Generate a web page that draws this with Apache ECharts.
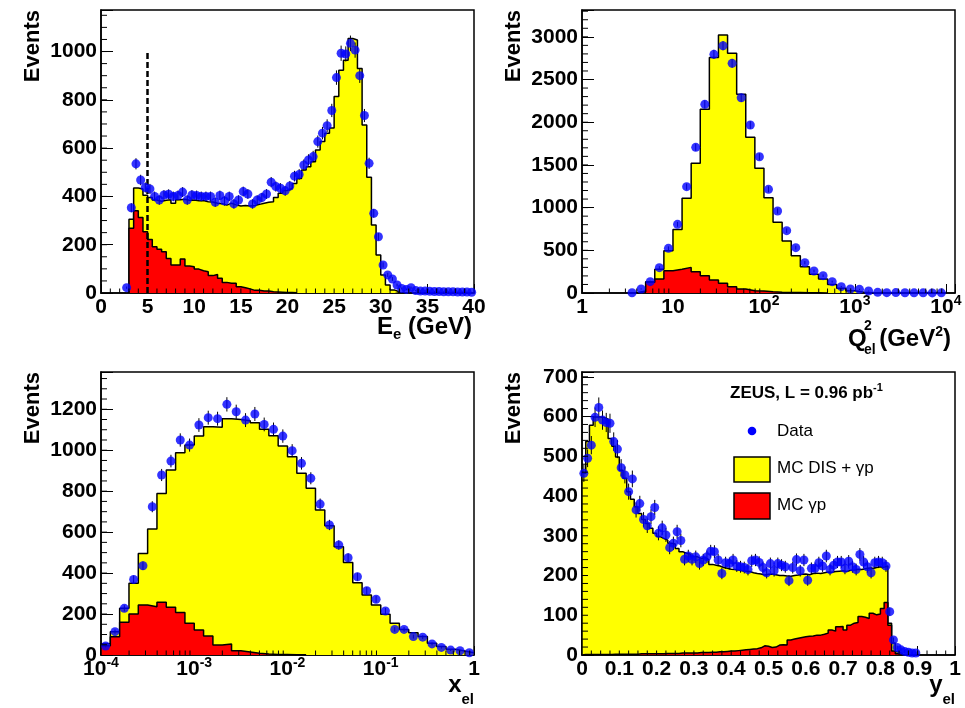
<!DOCTYPE html>
<html>
<head>
<meta charset="utf-8">
<script src="https://cdn.jsdelivr.net/npm/echarts@6/dist/echarts.min.js"></script>
<style>
html,body{margin:0;padding:0;background:#fff;}
#chart{width:965px;height:708px;}
</style>
</head>
<body>
<div id="chart"></div>
<script>
// ---------- E_e : scattered electron energy, 0.5 GeV bins ----------
const eeBinWidth = 0.5;
const eeMcStart = 3.0;
const eeMcTotal = [305, 435, 431, 405, 395, 385, 380, 384, 386, 372, 386, 388, 384, 385, 382, 383, 378, 377, 372, 370,
  364, 372, 365, 360, 362, 360, 362, 367, 372, 376, 378, 395, 413, 425, 433, 453, 474, 509, 523, 544,
  592, 627, 662, 683, 814, 923, 964, 1054, 1048, 930, 696, 479, 282, 157, 75, 33, 12, 5];
const eeMcGammaP = [268, 341, 313, 254, 222, 192, 181, 171, 143, 116, 116, 141, 112, 109, 99, 92, 88, 72, 77, 61,
  44, 40, 40, 26, 22, 17, 11, 11, 8, 8, 5, 4, 3, 2, 2, 1];
const eeDataStart = 2.5;
const eeData = [22, 353, 535, 468, 437, 431, 400, 385, 406, 409, 400, 404, 418, 385, 406, 404, 400, 400, 400, 376,
  404, 381, 400, 369, 385, 420, 410, 369, 385, 395, 410, 459, 441, 434, 423, 443, 484, 491, 530, 551,
  565, 627, 662, 693, 756, 892, 993, 990, 1034, 1006, 900, 735, 537, 330, 233, 116, 75, 58, 33, 19,
  15, 22, 10, 8, 8, 7, 6, 6, 5, 5, 5, 4, 4, 4, 3];
const eeCutEnergy = 5;
const eeCutHeight = 1000;

// ---------- Q^2_el : bins of 0.1 in log10(Q^2) ----------
const q2BinWidthLog = 0.1;
const q2McStartLog = 0.6;
const q2McTotal = [23, 133, 277, 496, 745, 1109, 1518, 2151, 2759, 3021, 2807, 2326, 1823, 1460, 1116, 828, 609, 437, 308, 219,
  164, 101, 55, 27, 8, 3, 1];
const q2McGammaP = [15, 125, 164, 261, 277, 300, 250, 203, 152, 113, 74, 47, 27, 23, 15, 10, 7, 5, 3, 2, 1];
const q2DataStartLog = 0.5;
const q2Data = [3, 47, 133, 297, 523, 804, 1245, 1706, 2209, 2795, 2896, 2689, 2287, 1967, 1596, 1214, 960, 730, 531, 355,
  258, 203, 133, 74, 47, 43, 23, 8, 4, 5, 3, 2, 2, 1, 2];
const q2TickLabels = ['1', '10', '10{sup|2}', '10{sup|3}', '10{sup|4}'];          // 10^0 .. 10^4

// ---------- x_el : bins of 0.1 in log10(x) ----------
const xBinWidthLog = 0.1;
const xMcStartLog = -4;
const xMcTotal = [55, 114, 228, 350, 496, 615, 789, 903, 988, 1025, 1069, 1115, 1112, 1154, 1150, 1144, 1134, 1102, 1071, 1021,
  968, 887, 814, 708, 631, 529, 452, 353, 293, 244, 199, 155, 125, 109, 90, 57, 41, 28, 19, 11];
const xMcGammaP = [45, 89, 160, 200, 244, 236, 257, 233, 208, 155, 122, 93, 49, 54, 21, 15, 8, 5, 3, 2, 1, 1];
const xDataStartLog = -4;
const xData = [44, 114, 228, 369, 436, 724, 879, 947, 1050, 1025, 1123, 1159, 1154, 1224, 1188, 1147, 1177, 1126, 1102, 1069,
  998, 936, 863, 737, 635, 537, 475, 382, 314, 272, 215, 125, 125, 90, 87, 54, 37, 24, 21, 11];
const xTickLabels = ['10{sup|-4}', '10{sup|-3}', '10{sup|-2}', '10{sup|-1}', '1'];  // 10^-4 .. 10^0

// ---------- y_el : bins of 0.01 ----------
const yBinWidth = 0.01;
const yMcStart = 0;
const yMcTotal = [457, 537, 578, 599, 599, 597, 594, 545, 525, 498,
  465, 445, 411, 392, 373, 356, 341, 331, 319, 306,
  298, 293, 289, 281, 279, 268, 260, 256, 254, 247,
  247, 243, 245, 240, 228, 226, 224, 220, 218, 216,
  215, 214, 212, 211, 210, 207, 205, 204, 201, 203,
  204, 202, 200, 200, 199, 198, 200, 201, 203, 204,
  202, 205, 206, 205, 207, 209, 208, 210, 211, 212,
  210, 213, 214, 216, 215, 217, 219, 218, 220, 222,
  221, 224, 80, 30, 8, 3];
const yMcGammaP = [1, 1, 1, 1, 1, 1, 1, 1, 2, 2,
  2, 2, 2, 2, 2, 3, 3, 3, 3, 3,
  3, 3, 4, 4, 4, 4, 5, 5, 5, 5,
  5, 6, 6, 6, 7, 7, 8, 8, 9, 10,
  10, 11, 12, 13, 14, 15, 16, 18, 23, 22,
  19, 20, 25, 26, 25, 38, 40, 42, 44, 46,
  47, 48, 50, 50, 52, 55, 63, 60, 71, 72,
  63, 75, 80, 82, 97, 95, 92, 105, 101, 103,
  117, 132, 75, 10, 3, 1];
const yDataStart = 0;
const yData = [457, 495, 528, 598, 623, 591, 585, 583, 537, 518,
  471, 453, 411, 443, 365, 381, 341, 325, 348, 371,
  306, 320, 302, 270, 281, 310, 288, 241, 249, 241,
  247, 230, 239, 247, 261, 260, 239, 205, 232, 230,
  239, 224, 222, 220, 215, 237, 239, 233, 220, 207,
  230, 212, 230, 226, 222, 187, 220, 240, 212, 239,
  188, 218, 218, 232, 224, 249, 215, 226, 234, 234,
  218, 236, 222, 215, 253, 234, 222, 207, 232, 234,
  232, 224, 109, 38, 19, 13, 9, 7, 5, 5];

// ---------- legend / labels ----------
const legendTitle = 'ZEUS, L = 0.96 pb{sup|-1}';
const legendNames = ['Data', 'MC DIS + \u03b3p', 'MC \u03b3p'];

// ---------- styling ----------
const FONT = '"Liberation Sans", Arial, Helvetica, sans-serif';
const YELLOW = '#ffff00', RED = '#ff0000', BLUE = '#0000ff';

// ---------- helpers ----------
function edgesLin(start, w, n) { const e = []; for (let i = 0; i <= n; i++) e.push(start + i * w); return e; }
function edgesLog(start, w, n) { const e = []; for (let i = 0; i <= n; i++) e.push(Math.pow(10, start + i * w)); return e; }
function centersLin(start, w, n) { const c = []; for (let i = 0; i < n; i++) c.push(start + (i + 0.5) * w); return c; }
function centersLog(start, w, n) { const c = []; for (let i = 0; i < n; i++) c.push(Math.pow(10, start + (i + 0.5) * w)); return c; }
// outline of a histogram as a step path starting and ending on the baseline
function stepPath(edges, vals) {
  const pts = [[edges[0], 0]];
  vals.forEach((v, i) => pts.push([edges[i], v]));
  pts.push([edges[vals.length], vals[vals.length - 1]]);
  pts.push([edges[vals.length], 0]);
  return pts;
}

function histSeries(g, edges, vals, fill, z, extra) {
  return Object.assign({
    type: 'line', xAxisIndex: g, yAxisIndex: g, data: stepPath(edges, vals), step: 'end',
    symbol: 'none', silent: true, z: z,
    lineStyle: { color: '#000', width: 1.5 },
    areaStyle: { color: fill, opacity: 1 }
  }, extra || {});
}
function dataSeries(g, centers, vals) {
  return {
    type: 'scatter', name: 'Data', xAxisIndex: g, yAxisIndex: g, silent: true, z: 6,
    symbol: 'circle', symbolSize: 9, itemStyle: { color: BLUE },
    data: centers.map((c, i) => [c, vals[i]])
  };
}
// statistical (Poisson) error bars of the data points
function errorSeries(g, centers, vals) {
  return {
    type: 'custom', xAxisIndex: g, yAxisIndex: g, silent: true, z: 5,
    encode: { x: 0, y: 1 },
    data: centers.map((c, i) => [c, vals[i], Math.sqrt(vals[i])]),
    renderItem: function (p, api) {
      const x = api.value(0), y = api.value(1), e = api.value(2);
      const a = api.coord([x, Math.max(0, y - e)]), b = api.coord([x, y + e]);
      return { type: 'line', shape: { x1: a[0], y1: a[1], x2: b[0], y2: b[1] }, style: { stroke: '#000', lineWidth: 1 } };
    }
  };
}
// secondary tick marks, drawn inside the frame
function minorTickSeries(g, dir, values, anchor, len) {
  return {
    type: 'custom', xAxisIndex: g, yAxisIndex: g, silent: true, z: 7,
    encode: { x: 0, y: 1 },
    data: values.map(v => dir === 'x' ? [v, anchor] : [anchor, v]),
    renderItem: function (p, api) {
      const c = api.coord([api.value(0), api.value(1)]);
      const shape = dir === 'x'
        ? { x1: c[0], y1: c[1], x2: c[0], y2: c[1] - len }
        : { x1: c[0], y1: c[1], x2: c[0] + len, y2: c[1] };
      return { type: 'line', shape: shape, style: { stroke: '#000', lineWidth: 1 } };
    }
  };
}
function linRange(step, max) { const v = []; for (let t = step; t < max - 1e-9; t += step) v.push(+t.toFixed(6)); return v; }
function logMinors(d0, d1, max) {
  const v = [];
  for (let d = d0; d < d1; d++) for (let k = 2; k <= 9; k++) { const t = k * Math.pow(10, d); if (t < max) v.push(t); }
  return v;
}

const labelStyle = { color: '#000', fontFamily: FONT, fontWeight: 'bold', fontSize: 21 };
const supRich = { sup: { fontFamily: FONT, fontWeight: 'bold', fontSize: 14, lineHeight: 14, padding: [0, 0, 12, 0] } };

function linearX(g, min, max, interval) {
  return {
    type: 'value', gridIndex: g, min: min, max: max, interval: interval,
    axisLine: { show: true, onZero: false, lineStyle: { color: '#000', width: 1.5 } },
    axisTick: { show: true, inside: true, length: 9, lineStyle: { color: '#000', width: 1 } },
    minorTick: { show: false }, splitLine: { show: false },
    axisLabel: Object.assign({}, labelStyle, {
      margin: 1, lineHeight: 26,
      formatter: v => (Math.abs(v / interval - Math.round(v / interval)) < 1e-6 ? String(+v.toFixed(6)) : '')
    })
  };
}
function logX(g, min, max, labels, firstPower) {
  return {
    type: 'log', logBase: 10, gridIndex: g, min: min, max: max,
    axisLine: { show: true, onZero: false, lineStyle: { color: '#000', width: 1.5 } },
    axisTick: { show: true, inside: true, length: 9, lineStyle: { color: '#000', width: 1 } },
    minorTick: { show: false }, splitLine: { show: false },
    axisLabel: Object.assign({}, labelStyle, {
      margin: 1, lineHeight: 26, rich: supRich,
      formatter: v => {
        const p = Math.log10(v), r = Math.round(p);
        if (Math.abs(p - r) > 1e-6) return '';
        const idx = r - firstPower;
        return (idx >= 0 && idx < labels.length) ? labels[idx] : '';
      }
    })
  };
}
function linearY(g, max, interval) {
  return {
    type: 'value', gridIndex: g, min: 0, max: max, interval: interval,
    axisLine: { show: true, onZero: false, lineStyle: { color: '#000', width: 1.5 } },
    axisTick: { show: true, inside: true, length: 12, lineStyle: { color: '#000', width: 1 } },
    minorTick: { show: false }, splitLine: { show: false },
    axisLabel: Object.assign({}, labelStyle, {
      margin: 4,
      formatter: v => (Math.abs(v / interval - Math.round(v / interval)) < 1e-6 ? String(v) : '')
    })
  };
}

const gridBase = { show: true, borderColor: '#000', borderWidth: 1.5, backgroundColor: 'transparent', outerBoundsMode: 'none', containLabel: false };
const grids = [
  Object.assign({ left: 101, top: 10, width: 373, height: 283 }, gridBase),
  Object.assign({ left: 582, top: 10, width: 373, height: 283 }, gridBase),
  Object.assign({ left: 101, top: 372, width: 373, height: 283 }, gridBase),
  Object.assign({ left: 582, top: 372, width: 373, height: 283 }, gridBase)
];

const Q2MAX = Math.pow(10, 4.1);

// ---------- panel geometry from the data ----------
const eeEdges = edgesLin(eeMcStart, eeBinWidth, eeMcTotal.length);
const eeGEdges = edgesLin(eeMcStart, eeBinWidth, eeMcGammaP.length);
const eeCenters = centersLin(eeDataStart, eeBinWidth, eeData.length);

const q2Edges = edgesLog(q2McStartLog, q2BinWidthLog, q2McTotal.length);
const q2GEdges = edgesLog(q2McStartLog, q2BinWidthLog, q2McGammaP.length);
const q2Centers = centersLog(q2DataStartLog, q2BinWidthLog, q2Data.length);

const xEdges = edgesLog(xMcStartLog, xBinWidthLog, xMcTotal.length);
const xGEdges = edgesLog(xMcStartLog, xBinWidthLog, xMcGammaP.length);
const xCenters = centersLog(xDataStartLog, xBinWidthLog, xData.length);

const yEdges = edgesLin(yMcStart, yBinWidth, yMcTotal.length);
const yGEdges = edgesLin(yMcStart, yBinWidth, yMcGammaP.length);
const yCenters = centersLin(yDataStart, yBinWidth, yData.length);

const series = [
  // E_e
  histSeries(0, eeEdges, eeMcTotal, YELLOW, 2, { name: legendNames[1] }),
  histSeries(0, eeGEdges, eeMcGammaP, RED, 3, {
    name: legendNames[2],
    markLine: {
      silent: true, symbol: ['none', 'none'], label: { show: false }, animation: false,
      lineStyle: { color: '#000', type: [6, 3], width: 2.5 },
      data: [[{ coord: [eeCutEnergy, 0] }, { coord: [eeCutEnergy, eeCutHeight] }]]
    }
  }),
  errorSeries(0, eeCenters, eeData),
  dataSeries(0, eeCenters, eeData),
  minorTickSeries(0, 'x', linRange(1, 40), 0, 4.5),
  minorTickSeries(0, 'y', linRange(50, 1172), 0, 6),
  // Q^2
  histSeries(1, q2Edges, q2McTotal, YELLOW, 2),
  histSeries(1, q2GEdges, q2McGammaP, RED, 3),
  errorSeries(1, q2Centers, q2Data),
  dataSeries(1, q2Centers, q2Data),
  minorTickSeries(1, 'x', logMinors(0, 4, Q2MAX), 0, 4.5),
  minorTickSeries(1, 'y', linRange(100, 3314), 1, 6),
  // x
  histSeries(2, xEdges, xMcTotal, YELLOW, 2),
  histSeries(2, xGEdges, xMcGammaP, RED, 3),
  errorSeries(2, xCenters, xData),
  dataSeries(2, xCenters, xData),
  minorTickSeries(2, 'x', logMinors(-4, 0, 1), 0, 4.5),
  minorTickSeries(2, 'y', linRange(50, 1382), 1e-4, 6),
  // y
  histSeries(3, yEdges, yMcTotal, YELLOW, 2),
  histSeries(3, yGEdges, yMcGammaP, RED, 3),
  errorSeries(3, yCenters, yData),
  dataSeries(3, yCenters, yData),
  minorTickSeries(3, 'x', linRange(0.025, 1), 0, 4.5),
  minorTickSeries(3, 'y', linRange(20, 712), 0, 6)
];

function txt(x, y, text, font, align, extra) {
  return Object.assign({
    type: 'text', x: x, y: y, silent: true, z: 100,
    style: { text: text, font: font, fill: '#000', align: align || 'left', verticalAlign: 'middle' }
  }, extra || {});
}
const BOLD_T = `bold 24px ${FONT}`;
const subRich = pad => ({ sub: { fontFamily: FONT, fontWeight: 'bold', fontSize: 15, padding: [pad, 0, 0, 0] },
                          sup: { fontFamily: FONT, fontWeight: 'bold', fontSize: 14, padding: [0, 0, 14, 0] } });

function eventsLabel(x, y) {
  return { type: 'text', x: x, y: y, rotation: Math.PI / 2, silent: true, z: 100,
    style: { text: 'Events', font: `bold 22px ${FONT}`, fill: '#000', align: 'right', verticalAlign: 'middle' } };
}

const graphic = [
  eventsLabel(33, 10), eventsLabel(514, 10), eventsLabel(33, 372), eventsLabel(514, 372),
  // axis titles
  { type: 'text', x: 472, y: 327, silent: true, z: 100,
    style: { text: 'E{sub|e} (GeV)', font: BOLD_T, fill: '#000', align: 'right', verticalAlign: 'middle', rich: subRich(16) } },
  txt(848, 339, 'Q', BOLD_T),
  txt(864, 326, '2', `bold 14px ${FONT}`),
  txt(864, 350, 'el', `bold 14px ${FONT}`),
  { type: 'text', x: 951, y: 339, silent: true, z: 100,
    style: { text: '(GeV{sup|2})', font: BOLD_T, fill: '#000', align: 'right', verticalAlign: 'middle', rich: subRich(0) } },
  { type: 'text', x: 474, y: 685, silent: true, z: 100,
    style: { text: 'x{sub|el}', font: BOLD_T, fill: '#000', align: 'right', verticalAlign: 'middle', rich: subRich(30) } },
  { type: 'text', x: 955, y: 685, silent: true, z: 100,
    style: { text: 'y{sub|el}', font: BOLD_T, fill: '#000', align: 'right', verticalAlign: 'middle', rich: subRich(30) } },
  // legend of the y_el panel
  { type: 'text', x: 730, y: 393, silent: true, z: 100,
    style: { text: legendTitle, font: `bold 17px ${FONT}`, fill: '#000', align: 'left', verticalAlign: 'middle',
      rich: { sup: { fontFamily: FONT, fontWeight: 'bold', fontSize: 11, padding: [0, 0, 10, 0] } } } },
  { type: 'circle', silent: true, z: 100, shape: { cx: 752, cy: 431, r: 4.3 }, style: { fill: BLUE } },
  txt(777, 431, legendNames[0], `17px ${FONT}`),
  { type: 'rect', silent: true, z: 100, shape: { x: 734, y: 457, width: 36, height: 25 }, style: { fill: YELLOW, stroke: '#000', lineWidth: 1.5 } },
  txt(777, 468, legendNames[1], `17px ${FONT}`),
  { type: 'rect', silent: true, z: 100, shape: { x: 734, y: 493, width: 36, height: 26 }, style: { fill: RED, stroke: '#000', lineWidth: 1.5 } },
  txt(777, 505, legendNames[2], `17px ${FONT}`)
];

const option = {
  animation: false,
  backgroundColor: '#ffffff',
  grid: grids,
  xAxis: [
    linearX(0, 0, 40, 5),
    logX(1, 1, Q2MAX, q2TickLabels, 0),
    logX(2, 1e-4, 1, xTickLabels, -4),
    linearX(3, 0, 1, 0.1)
  ],
  yAxis: [
    linearY(0, 1172, 200),
    linearY(1, 3314, 500),
    linearY(2, 1382, 200),
    linearY(3, 712, 100)
  ],
  series: series,
  graphic: graphic
};

const chart = echarts.init(document.getElementById('chart'), null, { renderer: 'canvas' });
chart.setOption(option);
</script>
</body>
</html>
